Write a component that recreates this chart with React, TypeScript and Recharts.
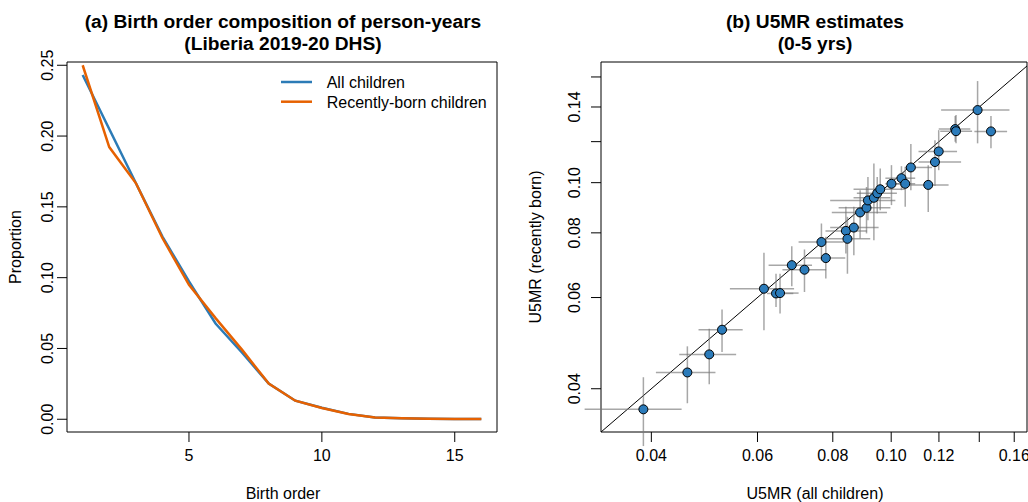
import {
  LineChart,
  Line,
  XAxis,
  YAxis,
  ReferenceArea,
  ReferenceLine,
  ScatterChart,
  Scatter,
  ErrorBar,
} from 'recharts';

const FONT = '"Liberation Sans", Arial, Helvetica, sans-serif';
const BLUE = '#2C7BB6';
const ORANGE = '#E66101';
const POINT_FILL = '#2B7BBA';

// panel (a): birth order composition
const birthOrder = [1, 2, 3, 4, 5, 6, 7, 8, 9, 10, 11, 12, 13, 14, 15, 16];
const allChildren = [0.2431, 0.205, 0.1668, 0.129, 0.0973, 0.0676, 0.047, 0.0252, 0.0131, 0.0081, 0.0038, 0.0013, 0.0007, 0.0004, 0.0002, 0.0001];
const recentChildren = [0.25, 0.1922, 0.1668, 0.128, 0.0949, 0.0714, 0.049, 0.0252, 0.0131, 0.0079, 0.0037, 0.0013, 0.0007, 0.0004, 0.0002, 0.0001];
const leftXTicks = [5, 10, 15];
const leftYTicks = [0, 0.05, 0.1, 0.15, 0.2, 0.25];

// panel (b): U5MR estimates with 95% intervals
const u5mrAll = [0.0388, 0.0459, 0.0499, 0.0524, 0.0615, 0.0644, 0.0654, 0.0684, 0.0718, 0.0766, 0.0779, 0.0841, 0.0846, 0.0867, 0.0888, 0.091, 0.0915, 0.0936, 0.0948, 0.0959, 0.1001, 0.104, 0.1055, 0.1078, 0.1152, 0.1182, 0.1199, 0.1277, 0.1281, 0.1391, 0.1464];
const u5mrRecent = [0.0365, 0.043, 0.0466, 0.052, 0.0624, 0.0611, 0.0612, 0.0693, 0.0679, 0.0768, 0.0715, 0.0807, 0.0779, 0.0819, 0.0876, 0.0894, 0.0924, 0.0935, 0.0954, 0.0971, 0.0995, 0.102, 0.0995, 0.107, 0.099, 0.1096, 0.1149, 0.1269, 0.1257, 0.1381, 0.1256];
const allLo = [0.031, 0.0407, 0.0445, 0.0479, 0.054, 0.0622, 0.0634, 0.0626, 0.066, 0.0702, 0.0715, 0.0778, 0.078, 0.0792, 0.0797, 0.0818, 0.0792, 0.0866, 0.0877, 0.0866, 0.0978, 0.0978, 0.1003, 0.1055, 0.1035, 0.111, 0.111, 0.1199, 0.1206, 0.121, 0.1374];
const allHi = [0.0449, 0.0511, 0.0553, 0.0567, 0.069, 0.0688, 0.0702, 0.0739, 0.078, 0.0834, 0.0839, 0.0912, 0.0923, 0.0953, 0.0984, 0.0997, 0.1016, 0.0997, 0.1022, 0.1055, 0.1096, 0.1096, 0.1076, 0.1169, 0.1245, 0.1306, 0.1286, 0.1353, 0.1362, 0.1571, 0.1557];
const recentLo = [0.031, 0.0375, 0.0408, 0.0471, 0.0519, 0.0575, 0.0559, 0.0631, 0.0615, 0.0708, 0.0653, 0.073, 0.0667, 0.0724, 0.078, 0.0798, 0.0846, 0.0774, 0.0872, 0.0885, 0.0905, 0.0967, 0.0898, 0.0967, 0.0878, 0.0985, 0.1057, 0.1199, 0.1191, 0.1191, 0.1165];
const recentHi = [0.0421, 0.0483, 0.0522, 0.0569, 0.0732, 0.0667, 0.0667, 0.0754, 0.0743, 0.0834, 0.0786, 0.0898, 0.0859, 0.0898, 0.0967, 0.0981, 0.1026, 0.1089, 0.1026, 0.1065, 0.1081, 0.1076, 0.1073, 0.1187, 0.1081, 0.1208, 0.1263, 0.1345, 0.1351, 0.1571, 0.1345];
const logTicks = [0.04, 0.06, 0.08, 0.1, 0.12, 0.14, 0.16];
const xTickLabels = ['0.04', '0.06', '0.08', '0.10', '0.12', '', '0.16'];
const yTickLabels = ['0.04', '0.06', '0.08', '0.10', '', '0.14', ''];

const leftData = birthOrder.map((order, i) => ({
  order,
  all: allChildren[i],
  recent: recentChildren[i],
}));

const scatterData = u5mrAll.map((x, i) => ({
  x,
  y: u5mrRecent[i],
  ex: [x - allLo[i], allHi[i] - x],
  ey: [u5mrRecent[i] - recentLo[i], recentHi[i] - u5mrRecent[i]],
}));

const LX = [0.41, 16.59];
const LY = [-0.009, 0.2523];
const RX = [0.033, 0.168];
const RY = [0.033, 0.171];

function BottomTick({ x, y, payload, labels, ticks }: any) {
  const label = labels
    ? labels[ticks.findIndex((t: number) => Math.abs(t - payload.value) < 1e-9)]
    : String(payload.value);
  return (
    <text x={x} y={y + 19} textAnchor="middle" fontSize={16} fontFamily={FONT} fill="#000">
      {label}
    </text>
  );
}

function SideTick({ x, y, payload, shift, labels, ticks }: any) {
  const label = labels
    ? labels[ticks.findIndex((t: number) => Math.abs(t - payload.value) < 1e-9)]
    : Number(payload.value).toFixed(2);
  const bx = x - shift;
  return (
    <text
      x={bx}
      y={y}
      transform={`rotate(-90 ${bx} ${y})`}
      textAnchor="middle"
      fontSize={16}
      fontFamily={FONT}
      fill="#000"
    >
      {label}
    </text>
  );
}

function Dot({ cx, cy }: any) {
  return <circle cx={cx} cy={cy} r={4.5} fill={POINT_FILL} stroke="#000" strokeWidth={1} />;
}

const tickLine = { stroke: '#000', strokeWidth: 1 };

export default function App() {
  return (
    <div style={{ position: 'absolute', left: 0, top: 0, width: 1028, height: 502, background: '#fff' }}>
      <div style={{ position: 'absolute', left: 0, top: 0 }}>
        <LineChart width={520} height={502} data={leftData} margin={{ top: 62, right: 23, left: 7, bottom: 30 }}>
          <XAxis
            dataKey="order"
            type="number"
            domain={LX}
            allowDataOverflow
            ticks={leftXTicks}
            interval={0}
            height={40}
            axisLine={false}
            tickLine={tickLine}
            tickSize={10}
            tickMargin={0}
            tick={<BottomTick />}
          />
          <YAxis
            type="number"
            domain={LY}
            allowDataOverflow
            ticks={leftYTicks}
            interval={0}
            width={60}
            axisLine={false}
            tickLine={tickLine}
            tickSize={10}
            tickMargin={0}
            tick={<SideTick shift={3.7} />}
          />
          <ReferenceArea x1={LX[0]} x2={LX[1]} y1={LY[0]} y2={LY[1]} fill="none" fillOpacity={0} stroke="#000" strokeWidth={1} />
          <Line dataKey="all" name="All children" type="linear" stroke={BLUE} strokeWidth={2.5} dot={false} isAnimationActive={false} />
          <Line dataKey="recent" name="Recently-born children" type="linear" stroke={ORANGE} strokeWidth={2.5} dot={false} isAnimationActive={false} />
        </LineChart>
      </div>

      <div style={{ position: 'absolute', left: 520, top: 0 }}>
        <ScatterChart width={508} height={502} margin={{ top: 62, right: 1, left: 21, bottom: 30 }}>
          <XAxis
            dataKey="x"
            type="number"
            scale="log"
            domain={RX}
            allowDataOverflow
            ticks={logTicks}
            interval={0}
            height={40}
            axisLine={false}
            tickLine={tickLine}
            tickSize={10}
            tickMargin={0}
            tick={<BottomTick labels={xTickLabels} ticks={logTicks} />}
          />
          <YAxis
            dataKey="y"
            type="number"
            scale="log"
            domain={RY}
            allowDataOverflow
            ticks={logTicks}
            interval={0}
            width={60}
            axisLine={false}
            tickLine={tickLine}
            tickSize={10}
            tickMargin={0}
            tick={<SideTick shift={11} labels={yTickLabels} ticks={logTicks} />}
          />
          <ReferenceArea x1={RX[0]} x2={RX[1]} y1={RY[0]} y2={RY[1]} fill="none" fillOpacity={0} stroke="#000" strokeWidth={1} />
          <ReferenceLine
            segment={[{ x: RX[0], y: RX[0] }, { x: RX[1], y: RX[1] }]}
            stroke="#000"
            strokeWidth={1}
          />
          <Scatter data={scatterData} shape={<Dot />} isAnimationActive={false}>
            <ErrorBar dataKey="ex" direction="x" width={0} stroke="rgba(120,120,120,0.65)" strokeWidth={1.5} />
            <ErrorBar dataKey="ey" direction="y" width={0} stroke="rgba(120,120,120,0.65)" strokeWidth={1.5} />
          </Scatter>
        </ScatterChart>
      </div>

      <svg width={1028} height={502} style={{ position: 'absolute', left: 0, top: 0, pointerEvents: 'none' }} fontFamily={FONT}>
        <text x={283} y={28} textAnchor="middle" fontSize={19.2} fontWeight="bold">(a) Birth order composition of person-years</text>
        <text x={283} y={50} textAnchor="middle" fontSize={19.2} fontWeight="bold">(Liberia 2019-20 DHS)</text>
        <text x={815} y={28} textAnchor="middle" fontSize={19.2} fontWeight="bold">(b) U5MR estimates</text>
        <text x={815} y={50} textAnchor="middle" fontSize={19.2} fontWeight="bold">(0-5 yrs)</text>

        <text x={283} y={499} textAnchor="middle" fontSize={16}>Birth order</text>
        <text x={21.3} y={247} textAnchor="middle" fontSize={16} transform="rotate(-90 21.3 247)">Proportion</text>
        <text x={815} y={498.5} textAnchor="middle" fontSize={16}>U5MR (all children)</text>
        <text x={541} y={247} textAnchor="middle" fontSize={16} transform="rotate(-90 541 247)">U5MR (recently born)</text>

        <line x1={281} x2={312} y1={82} y2={82} stroke={BLUE} strokeWidth={2.5} />
        <text x={326.7} y={87.8} fontSize={16}>All children</text>
        <line x1={281} x2={312} y1={101.7} y2={101.7} stroke={ORANGE} strokeWidth={2.5} />
        <text x={326.7} y={107.5} fontSize={16}>Recently-born children</text>
      </svg>
    </div>
  );
}
